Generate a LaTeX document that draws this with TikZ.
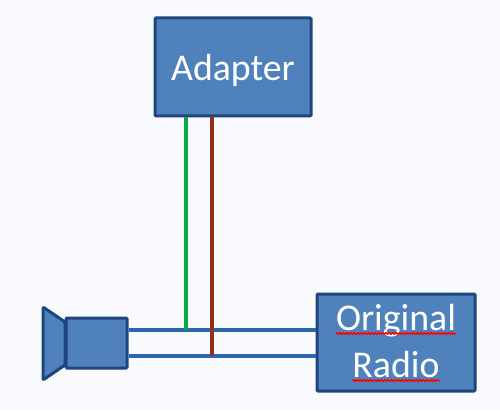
\documentclass[tikz,border=0pt]{standalone}
\usepackage{fontspec}
\setmainfont{Carlito}
\usepackage{tikz}
\usetikzlibrary{positioning, decorations.pathmorphing}

\definecolor{boxfill}{HTML}{4F81BD}
\definecolor{boxline}{HTML}{1F467C}
\definecolor{wireblue}{HTML}{2C66AC}
\definecolor{wiregreen}{HTML}{0BA84A}
\definecolor{wirered}{HTML}{93301C}
\definecolor{paper}{HTML}{F8FAFD}

\tikzset{
    blockbox/.style={draw=boxline, fill=boxfill, line width=0.06cm, rounded corners=0.02cm, inner sep=0pt},
    blocktext/.style={text=white, font=\fontsize{21.5}{24}\selectfont, inner sep=0pt},
    wire/.style={wireblue, line width=0.07cm},
    signal/.style={line width=0.08cm},
    squiggle/.style={red, line width=0.03cm, decorate, decoration={snake, amplitude=0.014cm, segment length=0.07cm}}
}

\begin{document}
\begin{tikzpicture}
    \useasboundingbox[fill=paper] (0,0) rectangle (10,8.2);

    % --- Boxes ---
    \node[blockbox, minimum width=3.12cm, minimum height=1.96cm] (adapter) at (4.66,6.86) {};
    \node[blocktext] (adapterlabel) at (4.66,6.8) {Adapter};

    \node[blockbox, minimum width=3.16cm, minimum height=1.94cm] (radio) at (7.92,1.35) {};
    \node[blocktext, anchor=base] (originallabel) at (7.92,1.6) {Original};
    \node[blocktext, anchor=base] (radiolabel) at (7.92,0.66) {Radio};

    % --- Speaker ---
    \draw[blockbox, line join=round] (1.3,1.76) -- (0.86,2.06) -- (0.86,0.6) -- (1.3,0.9) -- cycle;
    \node[blockbox, minimum width=1.22cm, minimum height=1cm] (speaker) at (1.93,1.34) {};

    % --- Wires ---
    \coordinate (wiretop) at (0,1.6);
    \coordinate (wirebottom) at (0,1.08);
    \draw[wire] (speaker.east |- wiretop) -- (radio.west |- wiretop);
    \draw[wire] (speaker.east |- wirebottom) -- (radio.west |- wirebottom);

    \coordinate (greendrop) at (3.72,0);
    \coordinate (reddrop) at (4.24,0);
    \draw[signal, wiregreen] (adapter.south -| greendrop) -- (greendrop |- wiretop);
    \draw[signal, wirered] (adapter.south -| reddrop) -- (reddrop |- wirebottom);

    % --- Spell check marks ---
    \draw[squiggle] ([yshift=-0.07cm]originallabel.base west) -- ([yshift=-0.07cm]originallabel.base east);
    \draw[squiggle] ([yshift=-0.07cm]radiolabel.base west) -- ([yshift=-0.07cm]radiolabel.base east);
\end{tikzpicture}
\end{document}
